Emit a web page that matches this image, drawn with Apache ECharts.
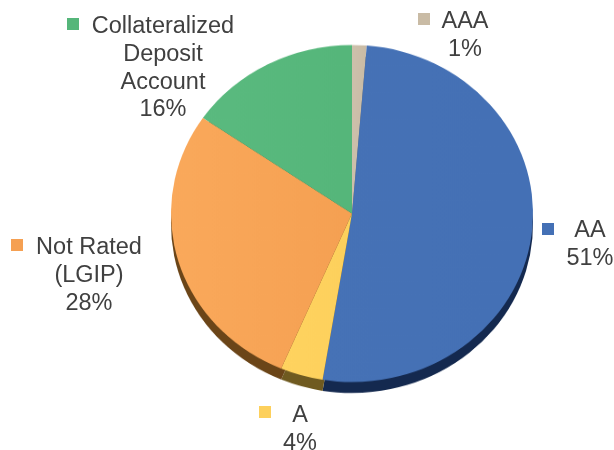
<!DOCTYPE html>
<html>
<head>
<meta charset="utf-8">
<style>
  html, body { margin: 0; padding: 0; background: #fff; }
  #wrap { position: relative; width: 614px; height: 450px; overflow: hidden; }
  #pie, #labels { position: absolute; left: 0; top: 0; width: 614px; height: 450px; }
  /* the original pie is tilted, so squash it a little. labels stay in their own layer */
  #pie { transform: scaleY(0.931); transform-origin: 352px 213.5px; }
</style>
<script src="https://cdn.jsdelivr.net/npm/echarts@6/dist/echarts.min.js"></script>
</head>
<body>
<div id="wrap">
  <div id="pie"></div>
  <div id="labels"></div>
</div>
<script>
var categories = ['AAA', 'AA', 'A', 'Not Rated\n(LGIP)', 'Collateralized\nDeposit\nAccount'];
var shares = [1.3, 51.3, 3.8, 28.2, 15.4];
var shareLabels = ['1%', '51%', '4%', '28%', '16%'];
var colors = ['#c9bba5', '#4470b5', '#fdd05c', '#f5a052', '#55b67a'];
var lightColors = ['#cdc0ab', '#4672b6', '#ffd35f', '#faa95b', '#5aba7f'];
var rimColors = ['#7d7362', '#14294f', '#6f5a20', '#6b4518', '#2f6a45'];
// text centre x, first line centre y
var textPos = [[465, 22], [590, 231], [300, 416], [89, 248], [163, 27]];
// swatch left, top
var swatchPos = [[418, 13], [542, 223], [259, 406], [11, 239], [67, 18]];

var pieChart = echarts.init(document.getElementById('pie'));
var labelChart = echarts.init(document.getElementById('labels'));

pieChart.setOption({
    animation: false,
    series: [
        {
            // darker rim showing under the pie
            type: 'pie',
            center: [352, 225.3],
            radius: [0, 181],
            startAngle: 90,
            silent: true,
            z: 1,
            label: { show: false },
            labelLine: { show: false },
            data: shares.map(function (v, i) {
                return { value: v, itemStyle: { color: rimColors[i] } };
            })
        },
        {
            type: 'pie',
            center: [352, 213.5],
            radius: [0, 181],
            startAngle: 90,
            z: 2,
            label: { show: false },
            labelLine: { show: false },
            data: shares.map(function (v, i) {
                return {
                    value: v,
                    name: categories[i],
                    itemStyle: {
                        color: new echarts.graphic.LinearGradient(0, 0, 1, 0, [
                            { offset: 0, color: lightColors[i] },
                            { offset: 1, color: colors[i] }
                        ])
                    }
                };
            })
        }
    ]
});

var graphics = [];
categories.forEach(function (name, i) {
    graphics.push({
        type: 'rect',
        shape: { x: swatchPos[i][0], y: swatchPos[i][1], width: 12, height: 12 },
        style: { fill: colors[i] }
    });
    graphics.push({
        type: 'text',
        x: textPos[i][0],
        y: textPos[i][1] - 14,
        style: {
            text: name + '\n' + shareLabels[i],
            fill: '#404040',
            font: '23.5px "Liberation Sans", Arial, sans-serif',
            align: 'center',
            verticalAlign: 'top',
            lineHeight: 27.7
        }
    });
});

labelChart.setOption({
    animation: false,
    graphic: graphics
});
</script>
</body>
</html>
